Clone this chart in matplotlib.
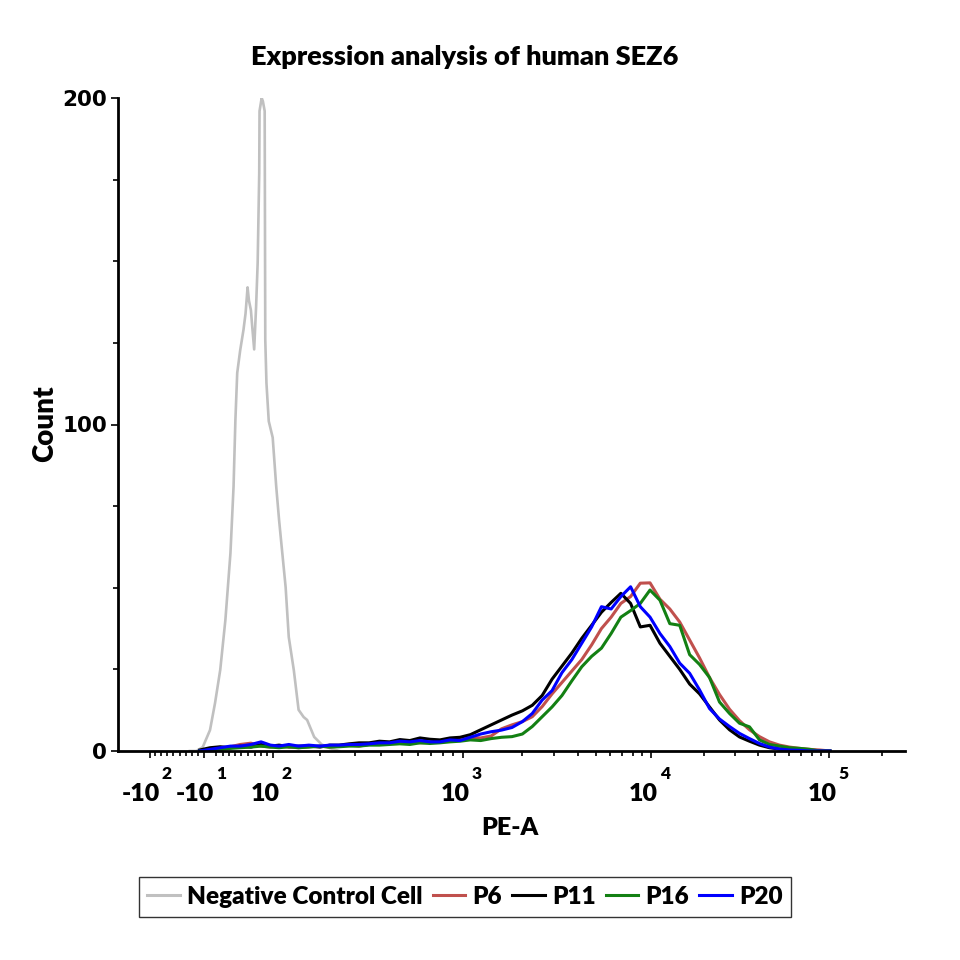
import numpy as np
import matplotlib
matplotlib.use("Agg")
from matplotlib import pyplot as plt
from matplotlib.ticker import FixedLocator, NullFormatter

# ---- data (PE-A value, count) ----
pe_bins = [-17, 0, 16, 32, 48, 64, 80, 96, 111, 129, 149, 172, 200, 224, 250, 280,
           313, 350, 392, 438, 490, 549, 616, 690, 773, 866, 970, 1094, 1236, 1397,
           1579, 1785, 2017, 2280, 2577, 2913, 3293, 3722, 4207, 4755, 5375, 6075,
           6867, 7762, 8773, 9915, 11275, 12823, 14585, 16596, 18880, 21478, 24434,
           27797, 31623, 35975, 40926, 46559, 52966, 60256, 68548, 77983, 88716, 100900]

p6 = [0, 0.3, 0.8, 1.3, 2, 2.4, 1.5, 1.2, 1.5, 1.2, 1, 1.3, 1.5, 1.2, 1.6, 1.8,
      1.5, 2, 2, 2.3, 2.5, 2.8, 2.5, 2.6, 2.8, 3.2, 3.8, 4.2, 4, 4.6,
      6.8, 8, 9, 10.5, 13.6, 17.5, 21, 24.5, 28, 32.5, 37.5, 41,
      45.2, 47.3, 51.4, 51.5, 46.5, 43.5, 39.5, 34, 28.5, 22.5, 17.3,
      12.8, 9.3, 6.5, 4.4, 2.8, 1.8, 1.2, 0.8, 0.5, 0.3, 0]

p11 = [0.3, 1, 1.3, 1, 1.5, 1.2, 2, 1.5, 1.8, 1.3, 1.5, 1.5, 1.2, 1.8, 1.8, 2.2,
       2.5, 2.5, 3, 2.8, 3.5, 3.2, 4, 3.6, 3.4, 4, 4.2, 5, 6.5, 8,
       9.5, 11, 12.3, 14, 17, 22, 26, 30, 34.5, 38.5, 42.5, 45.5,
       48.3, 45.2, 38, 38.5, 33, 29, 25, 20.5, 17.5, 13.5, 9.5,
       6.5, 4.3, 3, 1.8, 1, 0.6, 0.3, 0.1, 0, 0, 0]

p16 = [0, 0.3, 0.5, 0.8, 1, 1.2, 1.5, 1.2, 1, 1.3, 1, 1.2, 1.5, 1.2, 1.3, 1.5,
       1.5, 1.8, 1.8, 2, 2.2, 2, 2.5, 2.3, 2.5, 2.8, 3, 3.4, 3.2, 3.8,
       4.2, 4.4, 5.2, 7.5, 10.5, 13.5, 17, 21.5, 25.8, 29, 31.5, 36,
       41, 43, 45.2, 49.3, 46.2, 39, 38.5, 29.5, 26.5, 22.5, 15,
       11.5, 8.5, 7.4, 3.4, 2, 1.5, 1, 0.8, 0.5, 0, 0]

p20 = [0, 0.5, 1, 1.5, 1.5, 2, 2.8, 1.8, 1.5, 2, 1.5, 1.8, 1.5, 1.8, 1.8, 2,
       2, 2.2, 2.5, 2.5, 3, 2.8, 3.2, 2.8, 2.8, 3.4, 3.2, 4.2, 5.2, 5.9,
       6.4, 7.2, 9, 11.5, 15.6, 18.5, 24, 28, 33, 38, 44.2, 43.5,
       47.3, 50.3, 44.2, 41, 36, 32, 26.9, 23.8, 18.7, 13, 9.8,
       7.5, 5.4, 3.8, 2.3, 1.2, 0.6, 0.3, 0.2, 0, 0, 0]

neg_pe = [-33, -22, -12, 0, 8, 16, 24, 32, 37, 40, 43, 48, 53, 56, 59, 61, 64, 66,
          69, 72, 74.5, 77, 77.5, 81, 83, 86, 87, 89, 93, 100, 106, 111, 114, 123,
          129, 139, 149, 160, 168, 185, 204, 224, 250]
neg_count = [0, 0, 1.2, 6.4, 14.7, 24.8, 40.1, 60.6, 81, 101.4, 115.8, 122.8, 129,
             134, 142, 138, 135, 130, 123, 136, 149.5, 177, 196, 200, 199, 196, 126,
             112.7, 101, 96, 81, 70.8, 65.5, 50.2, 34.9, 24.8, 12.6, 10.4, 9.5, 4.3,
             2, 0.9, 0]

names = ["Negative Control Cell", "P6", "P11", "P16", "P20"]
colors = ["#c0c0c0", "#c0504d", "#000000", "#138013", "#0000ff"]

major_ticks = [-100, -10, 100, 1000, 10000, 100000]
major_base = ["-10", "-10", "10", "10", "10", "10"]
major_exp = ["2", "1", "2", "3", "4", "5"]
minor_ticks = ([-90, -80, -70, -60, -50, -40, -30, -20]
               + list(range(10, 100, 10)) + list(range(200, 1000, 100))
               + list(range(2000, 10000, 1000)) + list(range(20000, 100000, 10000))
               + [200000])

# ---- biexponential-like axis (value -> position along axis) ----
bx_vals = np.array([-200, -100, -50, -10, 0, 10, 50, 100, 200, 500, 1000, 2000,
                    5000, 1e4, 2e4, 5e4, 1e5, 2e5, 262144])
bx_pos = np.array([118, 150, 180, 204, 210, 216.3, 241.4, 272.7, 320, 401.7, 462.7,
                   521.7, 595.7, 650.7, 704, 775, 829.3, 882, 905])
bx_a = np.arcsinh(bx_vals / 100.0)


def biex_fwd(x):
    return np.interp(np.arcsinh(np.asarray(x, dtype=float) / 100.0), bx_a, bx_pos)


def biex_inv(p):
    return 100.0 * np.sinh(np.interp(np.asarray(p, dtype=float), bx_pos, bx_a))


label_font = "Lato"
label_weight = "heavy"

fig = plt.figure(figsize=(9.6, 9.6), dpi=100)
ax = fig.add_axes([118 / 960, 209 / 960, 787 / 960, 653 / 960])
ax.set_xscale("function", functions=(biex_fwd, biex_inv))

ax.plot(neg_pe, neg_count, color=colors[0], lw=1.9, label=names[0])
for vals, name, col in zip([p6, p11, p16, p20], names[1:], colors[1:]):
    ax.plot(pe_bins, vals, color=col, lw=2.2, label=name)

ax.set_xlim(-200, 262144)
ax.set_ylim(0, 200)

for side in ["top", "right"]:
    ax.spines[side].set_visible(False)
for side in ["left", "bottom"]:
    ax.spines[side].set_linewidth(2.0)

ax.xaxis.set_major_locator(FixedLocator(major_ticks))
ax.xaxis.set_minor_locator(FixedLocator(minor_ticks))
ax.xaxis.set_major_formatter(NullFormatter())
ax.xaxis.set_minor_formatter(NullFormatter())
ax.yaxis.set_major_locator(FixedLocator([0, 100, 200]))
ax.yaxis.set_minor_locator(FixedLocator([25, 50, 75, 125, 150, 175]))
ax.tick_params(which="major", length=5, width=1.2, direction="out")
ax.tick_params(which="minor", length=3.5, width=1.2, direction="out")
ax.tick_params(axis="y", which="major", pad=3)
for lab in ax.get_yticklabels():
    lab.set_fontfamily("DejaVu Sans")
    lab.set_fontweight("bold")
    lab.set_fontsize(15.5)

# x tick labels drawn as base + raised exponent
for v, base, ex in zip(major_ticks, major_base, major_exp):
    shift = 10 if v < 0 else 7
    ax.annotate(base, xy=(v, 0), xycoords=("data", "axes fraction"),
                xytext=(shift, -43), textcoords="offset pixels",
                ha="right", va="center", fontsize=18, fontweight=label_weight,
                family=label_font, annotation_clip=False)
    ax.annotate(ex, xy=(v, 0), xycoords=("data", "axes fraction"),
                xytext=(shift + 2, -23), textcoords="offset pixels",
                ha="left", va="center", fontsize=12.5, fontweight=label_weight,
                family=label_font, annotation_clip=False)

fig.text(465 / 960, 1 - 57 / 960, "Expression analysis of human SEZ6",
         ha="center", va="center", fontsize=19.5, fontweight=label_weight, family=label_font)
fig.text(45 / 960, 1 - 424 / 960, "Count", rotation=90, ha="center", va="center",
         fontsize=20, fontweight=label_weight, family=label_font)
fig.text(510 / 960, 1 - 828 / 960, "PE-A", ha="center", va="center",
         fontsize=18, fontweight=label_weight, family=label_font)

handles, labels = ax.get_legend_handles_labels()
leg = fig.legend(handles, labels, loc="center", bbox_to_anchor=(465 / 960, 1 - 897 / 960),
                 ncol=5, frameon=True, fancybox=False, edgecolor="black",
                 handlelength=1.35, handletextpad=0.3, columnspacing=0.4,
                 borderpad=0.35, borderaxespad=0,
                 prop=dict(family=label_font, weight=label_weight, size=17.5))
leg.get_frame().set_linewidth(1.0)
for line in leg.get_lines():
    line.set_linewidth(2.2)

fig.savefig("out.png", dpi=100, facecolor="white")
